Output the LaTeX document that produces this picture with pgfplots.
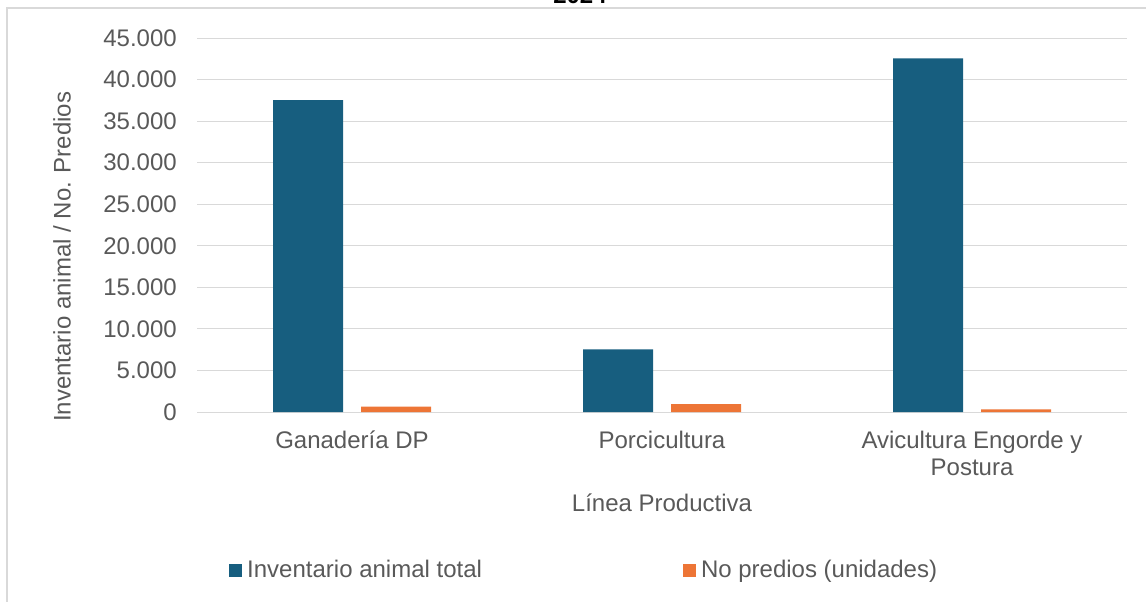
\documentclass[border=0pt]{standalone}
\usepackage{pgfplots}
\pgfplotsset{compat=1.18}
\usepackage{fontspec}
\setmainfont{Liberation Sans}
\definecolor{cblue}{HTML}{175E7F}
\definecolor{corange}{HTML}{ED7536}
\definecolor{ctext}{HTML}{595959}
\definecolor{cgrid}{HTML}{D9D9D9}
\begin{document}
\begin{tikzpicture}
\useasboundingbox (0,0) rectangle (859.5pt,450.75pt);
\draw[cgrid, line width=0.9pt] (5.25pt,-10pt) |- (875pt,444.75pt);
\node[anchor=base, font=\fontsize{18}{21.6}\selectfont\bfseries, text=black, inner sep=0pt] at (435pt,447.75pt) {2024};
\begin{axis}[
  at={(147.75pt,141.75pt)}, anchor=south west,
  scale only axis, width=697.5pt, height=280.5pt,
  ybar, bar width=52.5pt,
  xmin=-0.5, xmax=2.5, ymin=0, ymax=45000,
  enlargelimits=false,
  scaled y ticks=false,
  xtick={0,1,2},
  xticklabels={Ganadería DP, Porcicultura, {Avicultura Engorde y\\Postura}},
  ytick={0,5000,10000,15000,20000,25000,30000,35000,40000,45000},
  ymajorgrids, major grid style={cgrid, line width=0.75pt},
  axis line style={draw=none},
  major tick length=0pt,
  /pgf/number format/.cd, 1000 sep={.}, fixed, precision=0, assume math mode=true,
  /pgfplots/.cd,
  tick label style={font=\fontsize{18}{20.25}\selectfont, text=ctext},
  yticklabel style={anchor=east, inner sep=0pt, xshift=-15pt},
  xticklabel style={anchor=north, inner sep=0pt, yshift=-14pt, align=center},
  xlabel={Línea Productiva},
  xlabel style={at={(axis description cs:0.5,0)}, anchor=center, yshift=-68.25pt, font=\fontsize{18}{21.6}\selectfont, text=ctext},
  ylabel={Inventario animal / No. Predios},
  ylabel style={at={(axis description cs:-0.145,0.415)}, anchor=center, font=\fontsize{18}{21.6}\selectfont, text=ctext},
  legend style={at={(axis description cs:0.4174,-0.4225)}, anchor=center, draw=none, fill=none,
    font=\fontsize{18}{21.6}\selectfont, text=ctext, legend columns=2,
    /tikz/every even column/.append style={column sep=147.75pt},
    nodes={inner xsep=3pt, inner ysep=0pt}},
  legend image code/.code={\fill[#1] (0pt,-4.875pt) rectangle (9.75pt,4.875pt); \path (10.5pt,0pt);},
]
\addplot[fill=cblue, draw=none, bar shift=-33pt] coordinates {(0,37540) (1,7550) (2,42550)};
\addlegendentry{Inventario animal total}
\addplot[fill=corange, draw=none, bar shift=33pt] coordinates {(0,640) (1,960) (2,330)};
\addlegendentry{No predios (unidades)}
\end{axis}
\end{tikzpicture}
\end{document}
